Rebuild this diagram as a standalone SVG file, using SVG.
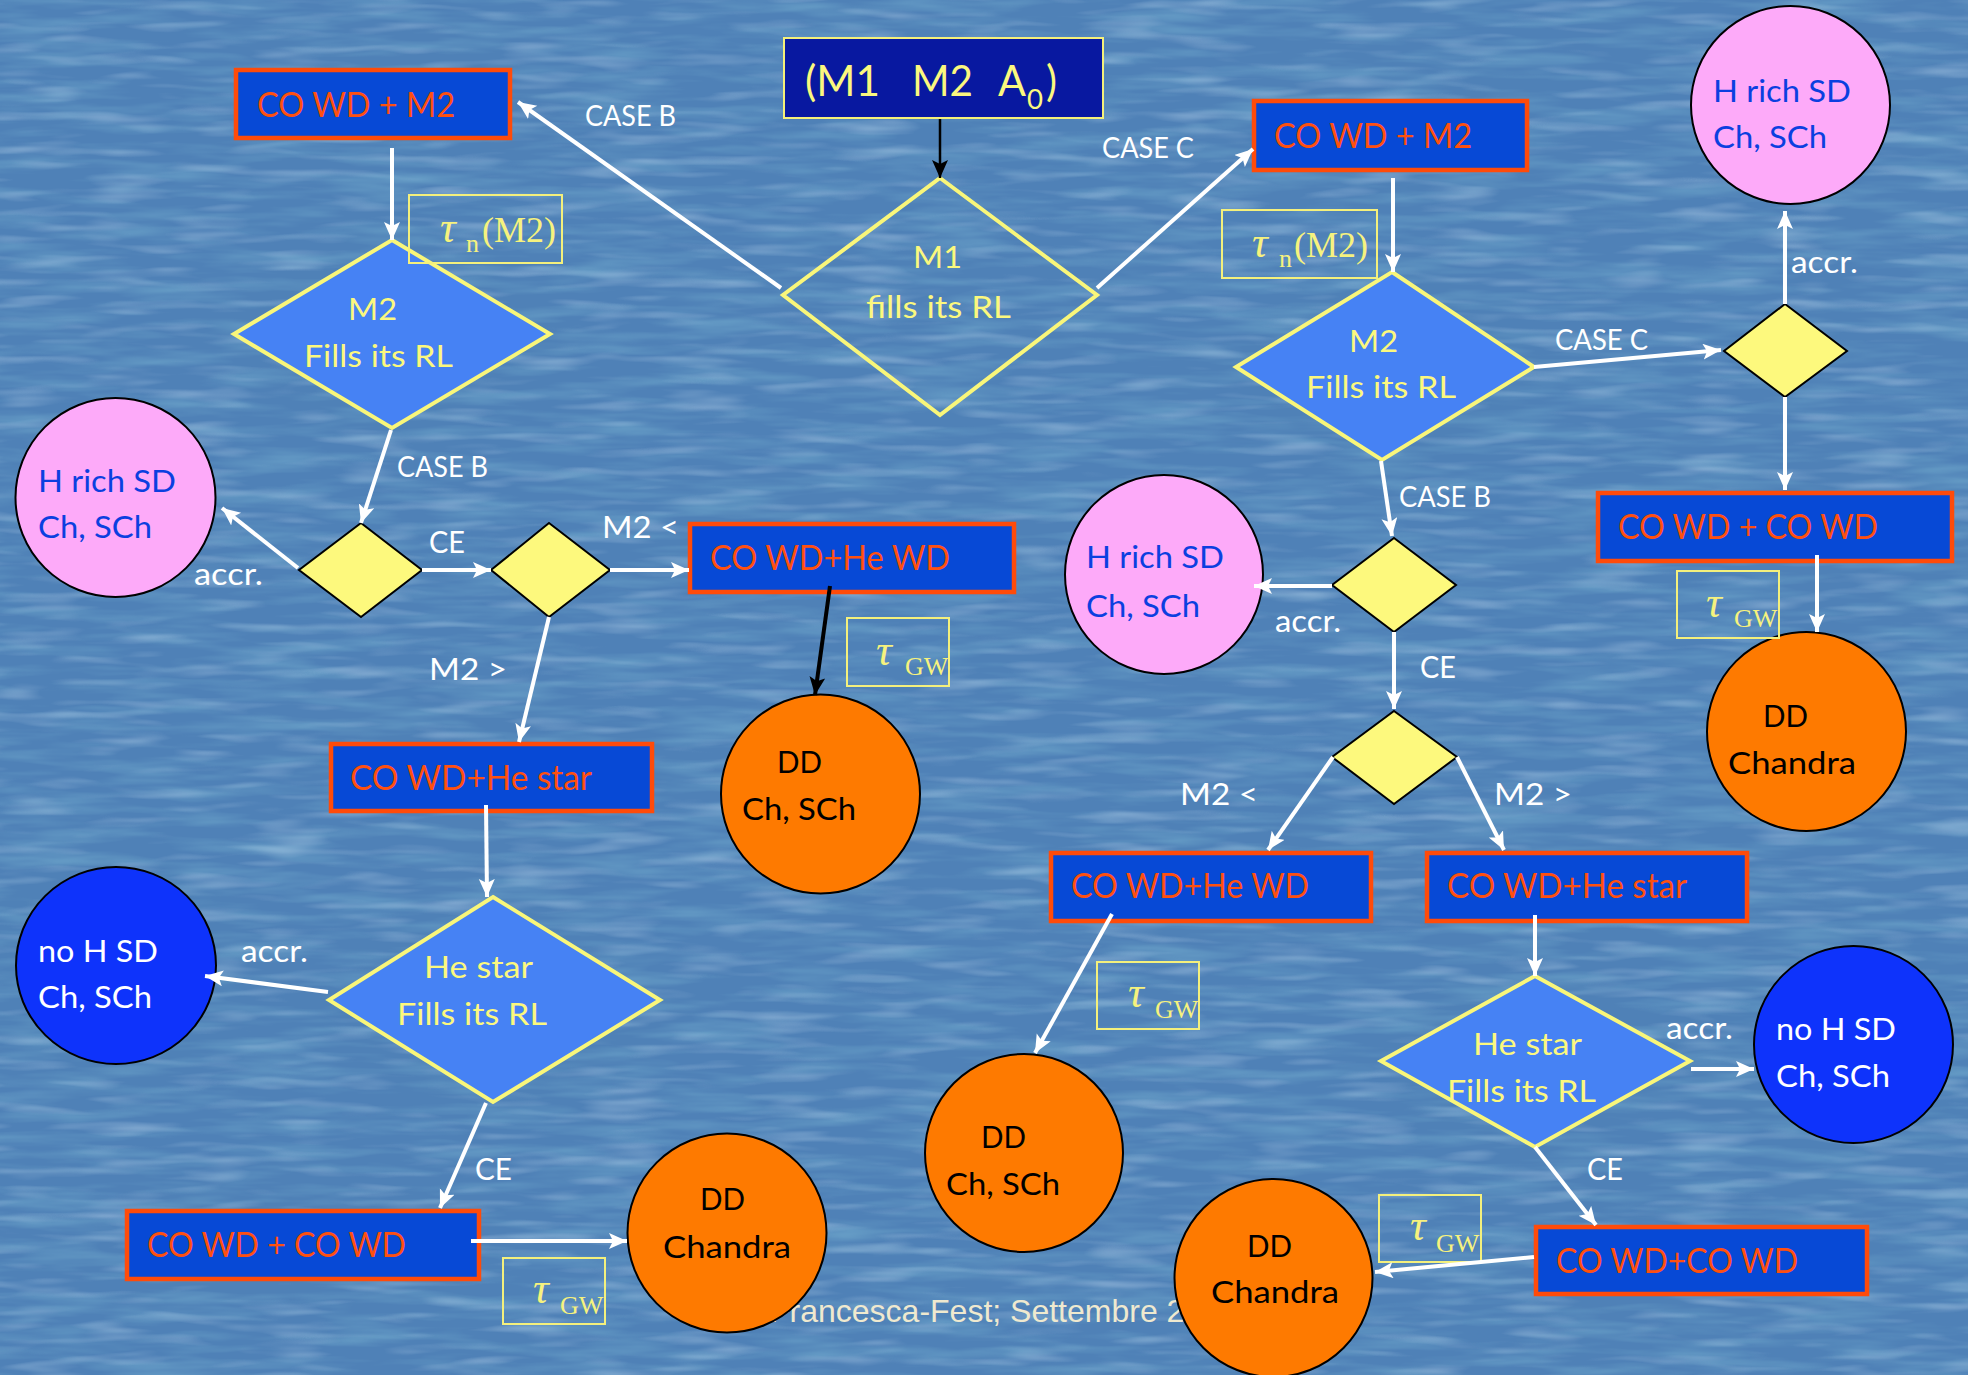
<svg xmlns="http://www.w3.org/2000/svg" width="1968" height="1375" viewBox="0 0 1968 1375">
<defs>
<style>
text{font-family:Lato,"Open Sans","Liberation Sans",sans-serif}
.box{fill:#0749d6;stroke:#ff4b0a;stroke-width:4.5}
.bt{fill:#ff500f;font-size:34px}
.dia{fill:#4682f4;stroke:#f9f67a;stroke-width:4}
.dio{fill:none;stroke:#f9f67a;stroke-width:4}
.ydia{fill:#fdf97d;stroke:#000;stroke-width:2}
.pink{fill:#fdaaf9;stroke:#000;stroke-width:2}
.nob{fill:#0e33fb;stroke:#000;stroke-width:2}
.org{fill:#fe7a00;stroke:#000;stroke-width:2}
.tau{fill:none;stroke:#f4f07c;stroke-width:2}
.yt{fill:#fbf87e;font-size:31px}
.st{fill:#fbf87e;font-size:43px}
.pt{fill:#0b3fe0;font-size:31px}
.wt{fill:#fff;font-size:31px}
.kt{fill:#000;font-size:31px}
.ts{fill:#f6f27e;font-family:"Liberation Serif","Times New Roman",serif}
.wl{stroke:#fff;stroke-width:4;fill:none;marker-end:url(#aw)}
.bl{stroke:#000;stroke-width:3;fill:none;marker-end:url(#ab)}
.lb{fill:#fff;font-size:30px}
.lc{fill:#fff;font-size:28px}
</style>
<marker id="aw" markerUnits="userSpaceOnUse" markerWidth="20" markerHeight="18" refX="18" refY="8" orient="auto"><path d="M0,0 L18,8 L0,16 L4,8 z" fill="#fff"/></marker>
<marker id="ab" markerUnits="userSpaceOnUse" markerWidth="20" markerHeight="18" refX="18" refY="8" orient="auto"><path d="M0,0 L18,8 L0,16 L4,8 z" fill="#000"/></marker>
<filter id="water" filterUnits="userSpaceOnUse" x="0" y="0" width="1968" height="1375">
<feTurbulence type="fractalNoise" baseFrequency="0.009 0.075" numOctaves="3" seed="7"/>
<feColorMatrix type="matrix" values="0 0 0 0 0.13  0 0 0 0 0.33  0 0 0 0 0.56  2.0 0 0 0 -0.85"/>
</filter>
<filter id="water2" filterUnits="userSpaceOnUse" x="0" y="0" width="1968" height="1375">
<feTurbulence type="fractalNoise" baseFrequency="0.012 0.09" numOctaves="2" seed="21"/>
<feColorMatrix type="matrix" values="0 0 0 0 0.43  0 0 0 0 0.61  0 0 0 0 0.80  0 1.2 0 0 -0.62"/>
</filter>
</defs>
<g id="background">
<rect x="0" y="0" width="1968" height="1375" fill="#4f81b7"/>
<rect x="0" y="0" width="1968" height="1375" fill="#fff" filter="url(#water)"/>
<rect x="0" y="0" width="1968" height="1375" fill="#fff" filter="url(#water2)"/>
<text x="770" y="1322" font-size="32" fill="#efe9cf" style="font-family:'Liberation Sans',Arial,sans-serif">Francesca-Fest; Settembre 2</text>
</g>

<g id="start">
<rect x="784" y="38" width="319" height="80" fill="#0818a0" stroke="#f5f07a" stroke-width="2"/>
<text class="st" x="805" y="96" textLength="75" lengthAdjust="spacingAndGlyphs">(M1</text>
<text class="st" x="912" y="96" textLength="61" lengthAdjust="spacingAndGlyphs">M2</text>
<text class="st" x="998" y="96" textLength="28" lengthAdjust="spacingAndGlyphs">A</text>
<text class="st" x="1027" y="109" style="font-size:27px" textLength="16" lengthAdjust="spacingAndGlyphs">0</text>
<text class="st" x="1046" y="96" textLength="11" lengthAdjust="spacingAndGlyphs">)</text>
</g>

<g id="m1">
<polygon class="dio" points="940,178 1097,295 940,415 783,295"/>
<text class="yt" x="913" y="268" textLength="49" lengthAdjust="spacingAndGlyphs">M1</text>
<text class="yt" x="866" y="318" textLength="145" lengthAdjust="spacingAndGlyphs">fills its RL</text>
</g>

<g id="b1">
<rect class="box" x="236" y="70" width="274" height="68"/>
<text class="bt" x="257" y="117" textLength="198" lengthAdjust="spacingAndGlyphs">CO WD + M2</text>
</g>
<g id="b2">
<rect class="box" x="1254" y="101" width="273" height="69"/>
<text class="bt" x="1274" y="148" textLength="198" lengthAdjust="spacingAndGlyphs">CO WD + M2</text>
</g>

<g id="m2l">
<polygon class="dia" points="392,240 550,334 392,428 234,334"/>
<text class="yt" x="348" y="320" textLength="49" lengthAdjust="spacingAndGlyphs">M2</text>
<text class="yt" x="304" y="367" textLength="149" lengthAdjust="spacingAndGlyphs">Fills its RL</text>
</g>
<g id="m2r">
<polygon class="dia" points="1392,272 1534,367 1382,460 1236,367"/>
<text class="yt" x="1349" y="352" textLength="49" lengthAdjust="spacingAndGlyphs">M2</text>
<text class="yt" x="1306" y="398" textLength="150" lengthAdjust="spacingAndGlyphs">Fills its RL</text>
</g>

<g id="y1"><polygon class="ydia" points="361,523 422,570 361,617 299,570"/></g>
<g id="y2"><polygon class="ydia" points="549,523 610,570 549,617 491,570"/></g>
<g id="y3"><polygon class="ydia" points="1785,304 1847,351 1785,397 1724,351"/></g>
<g id="y4"><polygon class="ydia" points="1394,538 1456,585 1394,632 1332,585"/></g>
<g id="y5"><polygon class="ydia" points="1394,711 1457,757 1394,804 1332,757"/></g>

<g id="c1">
<ellipse class="pink" cx="115.5" cy="497.5" rx="100" ry="99.5"/>
<text class="pt" x="38" y="492" textLength="138" lengthAdjust="spacingAndGlyphs">H rich SD</text>
<text class="pt" x="38" y="538" textLength="114" lengthAdjust="spacingAndGlyphs">Ch, SCh</text>
</g>
<g id="c2">
<ellipse class="pink" cx="1790.5" cy="105" rx="99.5" ry="99"/>
<text class="pt" x="1713" y="102" textLength="138" lengthAdjust="spacingAndGlyphs">H rich SD</text>
<text class="pt" x="1713" y="148" textLength="114" lengthAdjust="spacingAndGlyphs">Ch, SCh</text>
</g>
<g id="c3">
<ellipse class="pink" cx="1164" cy="574.5" rx="99" ry="99.5"/>
<text class="pt" x="1086" y="568" textLength="138" lengthAdjust="spacingAndGlyphs">H rich SD</text>
<text class="pt" x="1086" y="617" textLength="114" lengthAdjust="spacingAndGlyphs">Ch, SCh</text>
</g>

<g id="b3">
<rect class="box" x="690" y="524" width="324" height="68"/>
<text class="bt" x="710" y="570" textLength="240" lengthAdjust="spacingAndGlyphs">CO WD+He WD</text>
</g>
<g id="b4">
<rect class="box" x="331" y="744" width="321" height="67"/>
<text class="bt" x="350" y="790" textLength="242" lengthAdjust="spacingAndGlyphs">CO WD+He star</text>
</g>
<g id="b6">
<rect class="box" x="1598" y="493" width="354" height="68"/>
<text class="bt" x="1618" y="539" textLength="260" lengthAdjust="spacingAndGlyphs">CO WD + CO WD</text>
</g>

<g id="c6">
<ellipse class="org" cx="820.5" cy="794" rx="99.5" ry="99.5"/>
<text class="kt" x="777" y="773" textLength="45" lengthAdjust="spacingAndGlyphs">DD</text>
<text class="kt" x="742" y="820" textLength="114" lengthAdjust="spacingAndGlyphs">Ch, SCh</text>
</g>
<g id="c7">
<ellipse class="org" cx="1806.5" cy="731.5" rx="99.5" ry="99.5"/>
<text class="kt" x="1763" y="727" textLength="45" lengthAdjust="spacingAndGlyphs">DD</text>
<text class="kt" x="1728" y="774" textLength="128" lengthAdjust="spacingAndGlyphs">Chandra</text>
</g>

<g id="b7">
<rect class="box" x="1051" y="853" width="320" height="68"/>
<text class="bt" x="1071" y="898" textLength="238" lengthAdjust="spacingAndGlyphs">CO WD+He WD</text>
</g>
<g id="b8">
<rect class="box" x="1427" y="853" width="320" height="68"/>
<text class="bt" x="1447" y="898" textLength="240" lengthAdjust="spacingAndGlyphs">CO WD+He star</text>
</g>

<g id="hel">
<polygon class="dia" points="493,897 660,1000 493,1102 329,1000"/>
<text class="yt" x="424" y="978" textLength="109" lengthAdjust="spacingAndGlyphs">He star</text>
<text class="yt" x="397" y="1025" textLength="150" lengthAdjust="spacingAndGlyphs">Fills its RL</text>
</g>
<g id="her">
<polygon class="dia" points="1535,976 1690,1061 1535,1147 1381,1061"/>
<text class="yt" x="1473" y="1055" textLength="109" lengthAdjust="spacingAndGlyphs">He star</text>
<text class="yt" x="1447" y="1102" textLength="149" lengthAdjust="spacingAndGlyphs">Fills its RL</text>
</g>

<g id="c4">
<ellipse class="nob" cx="116" cy="965.5" rx="100" ry="98.5"/>
<text class="wt" x="38" y="962" textLength="120" lengthAdjust="spacingAndGlyphs">no H SD</text>
<text class="wt" x="38" y="1008" textLength="114" lengthAdjust="spacingAndGlyphs">Ch, SCh</text>
</g>
<g id="c5">
<ellipse class="nob" cx="1853.5" cy="1044.5" rx="99.5" ry="98.5"/>
<text class="wt" x="1776" y="1040" textLength="120" lengthAdjust="spacingAndGlyphs">no H SD</text>
<text class="wt" x="1776" y="1087" textLength="114" lengthAdjust="spacingAndGlyphs">Ch, SCh</text>
</g>

<g id="b5">
<rect class="box" x="127" y="1211" width="352" height="68"/>
<text class="bt" x="147" y="1257" textLength="259" lengthAdjust="spacingAndGlyphs">CO WD + CO WD</text>
</g>
<g id="b9">
<rect class="box" x="1536" y="1227" width="331" height="67"/>
<text class="bt" x="1556" y="1273" textLength="242" lengthAdjust="spacingAndGlyphs">CO WD+CO WD</text>
</g>

<g id="c8">
<ellipse class="org" cx="727" cy="1233" rx="99.5" ry="99.5"/>
<text class="kt" x="700" y="1210" textLength="45" lengthAdjust="spacingAndGlyphs">DD</text>
<text class="kt" x="663" y="1258" textLength="128" lengthAdjust="spacingAndGlyphs">Chandra</text>
</g>
<g id="c9">
<ellipse class="org" cx="1024" cy="1153" rx="99" ry="99"/>
<text class="kt" x="981" y="1148" textLength="45" lengthAdjust="spacingAndGlyphs">DD</text>
<text class="kt" x="946" y="1195" textLength="114" lengthAdjust="spacingAndGlyphs">Ch, SCh</text>
</g>
<g id="c10">
<ellipse class="org" cx="1273.5" cy="1278" rx="99" ry="99"/>
<text class="kt" x="1247" y="1257" textLength="45" lengthAdjust="spacingAndGlyphs">DD</text>
<text class="kt" x="1211" y="1303" textLength="128" lengthAdjust="spacingAndGlyphs">Chandra</text>
</g>

<g id="t1">
<rect class="tau" x="409" y="195" width="153" height="68"/>
<text class="ts" x="440" y="242" font-size="44" font-style="italic">τ</text>
<text class="ts" x="466" y="252" font-size="26">n</text>
<text class="ts" x="482" y="242" font-size="36">(M2)</text>
</g>
<g id="t2">
<rect class="tau" x="1222" y="210" width="155" height="68"/>
<text class="ts" x="1252" y="257" font-size="44" font-style="italic">τ</text>
<text class="ts" x="1279" y="267" font-size="26">n</text>
<text class="ts" x="1294" y="257" font-size="36">(M2)</text>
</g>
<g id="t3">
<rect class="tau" x="847" y="618" width="102" height="68"/>
<text class="ts" x="876" y="665" font-size="44" font-style="italic">τ</text>
<text class="ts" x="905" y="675" font-size="26">GW</text>
</g>
<g id="t4">
<rect class="tau" x="1677" y="571" width="102" height="67"/>
<text class="ts" x="1706" y="617" font-size="44" font-style="italic">τ</text>
<text class="ts" x="1734" y="627" font-size="26">GW</text>
</g>
<g id="t5">
<rect class="tau" x="503" y="1258" width="102" height="66"/>
<text class="ts" x="533" y="1303" font-size="44" font-style="italic">τ</text>
<text class="ts" x="560" y="1314" font-size="26">GW</text>
</g>
<g id="t6">
<rect class="tau" x="1097" y="962" width="102" height="67"/>
<text class="ts" x="1128" y="1007" font-size="44" font-style="italic">τ</text>
<text class="ts" x="1155" y="1018" font-size="26">GW</text>
</g>
<g id="t7">
<rect class="tau" x="1379" y="1195" width="102" height="67"/>
<text class="ts" x="1410" y="1240" font-size="44" font-style="italic">τ</text>
<text class="ts" x="1436" y="1252" font-size="26">GW</text>
</g>

<g id="connectors">
<line class="bl" x1="940" y1="119" x2="940" y2="178" style="stroke-width:2.5"/>
<line class="wl" x1="781" y1="288" x2="518" y2="102"/>
<line class="wl" x1="1097" y1="288" x2="1253" y2="149"/>
<line class="wl" x1="392" y1="148" x2="392" y2="240"/>
<line class="wl" x1="391" y1="430" x2="361" y2="523"/>
<line class="wl" x1="298" y1="568" x2="222" y2="508"/>
<line class="wl" x1="422" y1="570" x2="491" y2="570"/>
<line class="wl" x1="610" y1="570" x2="689" y2="570"/>
<line class="wl" x1="549" y1="617" x2="519" y2="742"/>
<line class="bl" x1="830" y1="586" x2="815" y2="695" style="stroke-width:4"/>
<line class="wl" x1="486" y1="805" x2="487" y2="897"/>
<line class="wl" x1="328" y1="992" x2="205" y2="976"/>
<line class="wl" x1="486" y1="1103" x2="440" y2="1208"/>
<line class="wl" x1="471" y1="1241" x2="627" y2="1241"/>
<line class="wl" x1="1393" y1="178" x2="1393" y2="272"/>
<line class="wl" x1="1534" y1="367" x2="1721" y2="350"/>
<line class="wl" x1="1785" y1="304" x2="1785" y2="211"/>
<line class="wl" x1="1785" y1="397" x2="1785" y2="490"/>
<line class="wl" x1="1817" y1="555" x2="1817" y2="632"/>
<line class="wl" x1="1381" y1="461" x2="1392" y2="536"/>
<line class="wl" x1="1332" y1="586" x2="1254" y2="586"/>
<line class="wl" x1="1394" y1="632" x2="1394" y2="709"/>
<line class="wl" x1="1333" y1="757" x2="1268" y2="850"/>
<line class="wl" x1="1457" y1="757" x2="1504" y2="850"/>
<line class="wl" x1="1112" y1="914" x2="1035" y2="1053"/>
<line class="wl" x1="1535" y1="915" x2="1535" y2="976"/>
<line class="wl" x1="1691" y1="1069" x2="1754" y2="1069"/>
<line class="wl" x1="1535" y1="1147" x2="1596" y2="1225"/>
<line class="wl" x1="1534" y1="1257" x2="1375" y2="1272"/>
<g id="labels">
<text class="lc" x="585" y="126" textLength="91" lengthAdjust="spacingAndGlyphs">CASE B</text>
<text class="lc" x="1102" y="158" textLength="92" lengthAdjust="spacingAndGlyphs">CASE C</text>
<text class="lc" x="397" y="477" textLength="91" lengthAdjust="spacingAndGlyphs">CASE B</text>
<text class="lb" x="194" y="585" textLength="69" lengthAdjust="spacingAndGlyphs">accr.</text>
<text class="lb" x="429" y="553" textLength="36" lengthAdjust="spacingAndGlyphs">CE</text>
<text class="lb" x="602" y="538" textLength="77" lengthAdjust="spacingAndGlyphs">M2 &lt;</text>
<text class="lb" x="429" y="680" textLength="78" lengthAdjust="spacingAndGlyphs">M2 &gt;</text>
<text class="lb" x="241" y="962" textLength="67" lengthAdjust="spacingAndGlyphs">accr.</text>
<text class="lb" x="475" y="1180" textLength="37" lengthAdjust="spacingAndGlyphs">CE</text>
<text class="lc" x="1555" y="350" textLength="93" lengthAdjust="spacingAndGlyphs">CASE C</text>
<text class="lb" x="1791" y="273" textLength="67" lengthAdjust="spacingAndGlyphs">accr.</text>
<text class="lc" x="1399" y="507" textLength="92" lengthAdjust="spacingAndGlyphs">CASE B</text>
<text class="lb" x="1275" y="632" textLength="66" lengthAdjust="spacingAndGlyphs">accr.</text>
<text class="lb" x="1420" y="678" textLength="36" lengthAdjust="spacingAndGlyphs">CE</text>
<text class="lb" x="1494" y="805" textLength="78" lengthAdjust="spacingAndGlyphs">M2 &gt;</text>
<text class="lb" x="1180" y="805" textLength="78" lengthAdjust="spacingAndGlyphs">M2 &lt;</text>
<text class="lb" x="1666" y="1039" textLength="67" lengthAdjust="spacingAndGlyphs">accr.</text>
<text class="lb" x="1587" y="1180" textLength="36" lengthAdjust="spacingAndGlyphs">CE</text>
</g>
</g>
</svg>
